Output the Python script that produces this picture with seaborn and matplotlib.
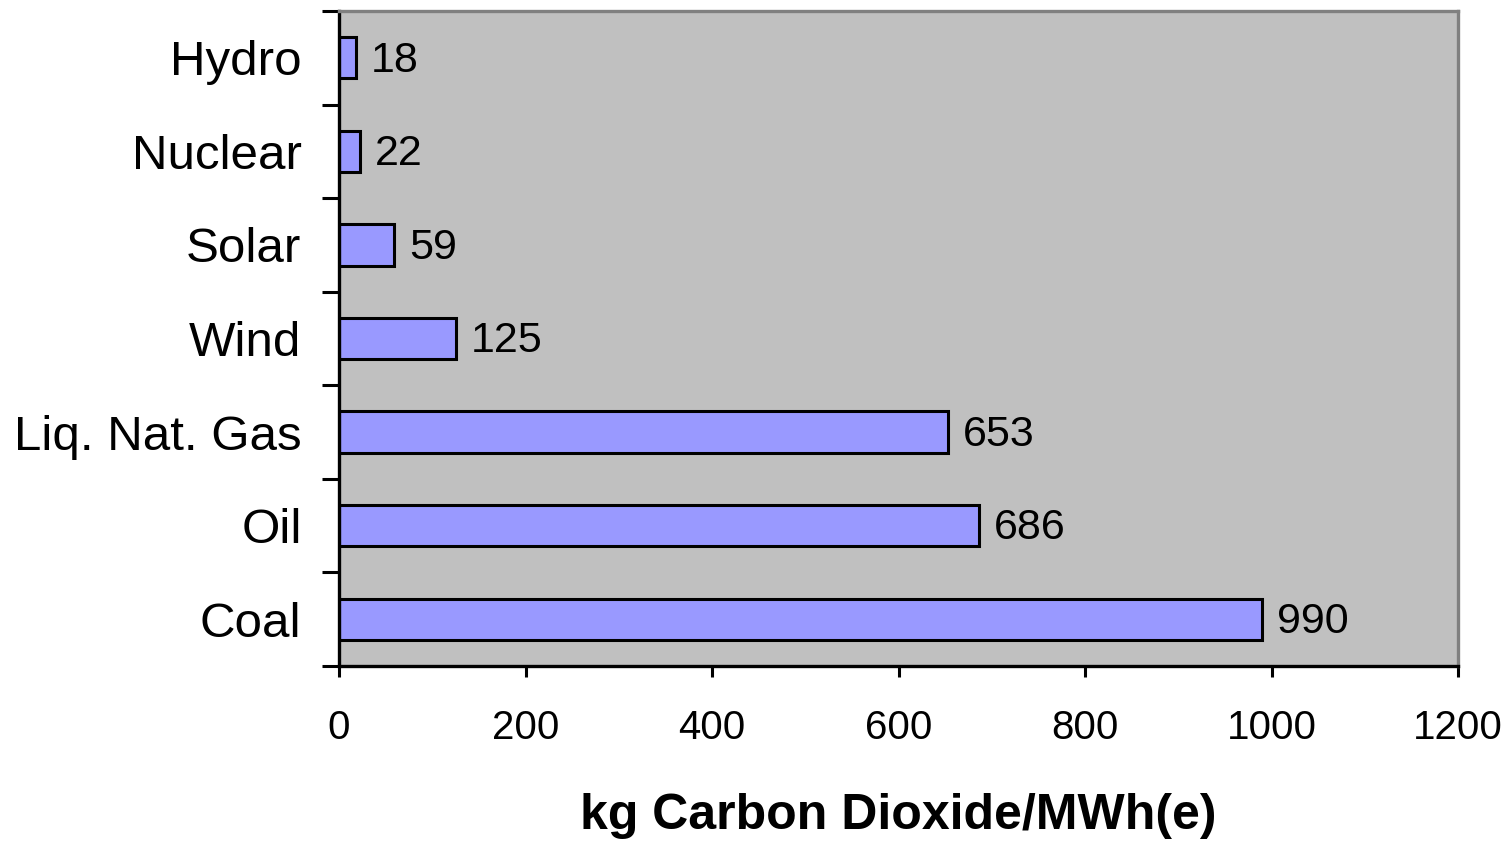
import matplotlib
matplotlib.use("Agg")
import matplotlib.pyplot as plt
import seaborn as sns
import pandas as pd
import numpy as np

# Life-cycle CO2 emissions by generation source
sources = ["Hydro", "Nuclear", "Solar", "Wind", "Liq. Nat. Gas", "Oil", "Coal"]
emissions = [18, 22, 59, 125, 653, 686, 990]
x_ticks = [0, 200, 400, 600, 800, 1000, 1200]
x_label = "kg Carbon Dioxide/MWh(e)"

df = pd.DataFrame({"source": sources, "co2": emissions})

sns.set_style("white")
plt.rcParams["font.family"] = ["Liberation Sans", "DejaVu Sans"]
plt.rcParams.update({
    "text.color": "black",
    "axes.labelcolor": "black",
    "xtick.color": "black",
    "ytick.color": "black",
})

fig = plt.figure(figsize=(15.08, 8.42), dpi=100)
ax = fig.add_axes([339 / 1508, 1 - 666 / 842, (1458 - 339) / 1508, (666 - 11) / 842])
ax.set_facecolor("#C0C0C0")

sns.barplot(data=df, x="co2", y="source", order=sources, orient="h",
            color="#9999FF", saturation=1, width=0.44,
            edgecolor="black", linewidth=2.2, ax=ax)

ax.set_xlim(0, 1200)
ax.set_ylim(len(sources) - 0.5, -0.5)
ax.set_xticks(x_ticks)
ax.set_xticklabels([str(t) for t in x_ticks], fontsize=29)
ax.tick_params(axis="x", direction="out", length=8, width=2.2, color="black",
               pad=23, bottom=True)

# category labels centered, tick marks on category boundaries
ax.set_yticks(np.arange(len(sources)))
ax.set_yticklabels(sources, fontsize=35.5)
ax.tick_params(axis="y", which="major", length=0, pad=27)
ax.set_yticks(np.arange(len(sources) + 1) - 0.5, minor=True)
ax.tick_params(axis="y", which="minor", direction="out", length=12, width=2.2,
               color="black", left=True)

ax.set_ylabel("")
ax.set_xlabel(x_label, fontsize=36, fontweight="bold", labelpad=33)

for side in ["left", "bottom"]:
    ax.spines[side].set_color("black")
    ax.spines[side].set_linewidth(2.4)
for side in ["top", "right"]:
    ax.spines[side].set_color("#808080")
    ax.spines[side].set_linewidth(2.4)

for i, v in enumerate(emissions):
    ax.annotate(str(v), xy=(v, i), xytext=(11, -2), textcoords="offset points",
                va="center", ha="left", fontsize=31, color="black")

fig.savefig("out.png", dpi=100, facecolor="white")
